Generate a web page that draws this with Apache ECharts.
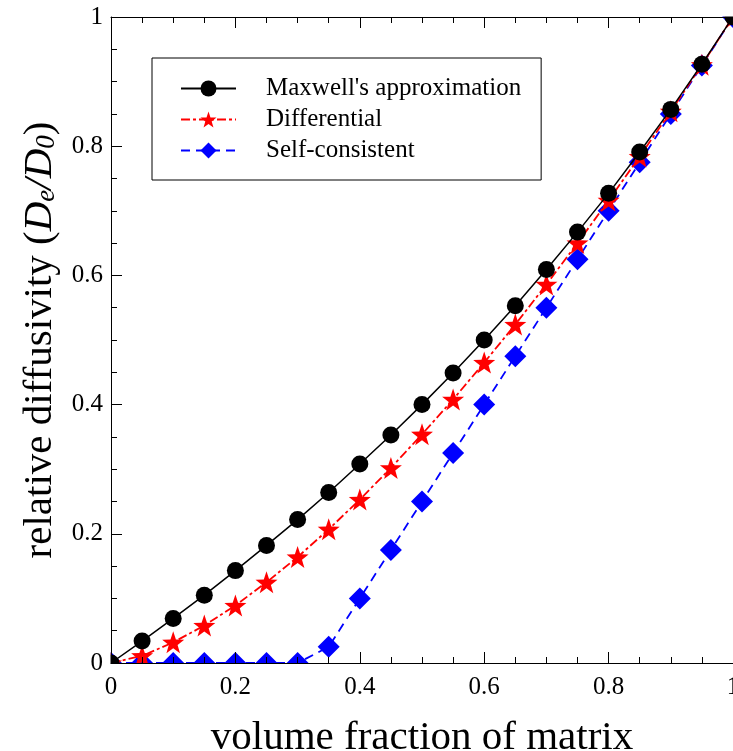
<!DOCTYPE html>
<html>
<head>
<meta charset="utf-8">
<script src="https://cdn.jsdelivr.net/npm/echarts@6/dist/echarts.min.js"></script>
<style>
  html, body { margin: 0; padding: 0; background: #fff; }
  #chart { width: 733px; height: 751px; }
</style>
</head>
<body>
<div id="chart"></div>
<script>
// volume fraction of matrix
const fractions = [0, 0.05, 0.1, 0.15, 0.2, 0.25, 0.3, 0.35, 0.4, 0.45, 0.5,
                   0.55, 0.6, 0.65, 0.7, 0.75, 0.8, 0.85, 0.9, 0.95, 1]
// relative diffusivity
const maxwell = [0, 0.034, 0.069, 0.105, 0.143, 0.182, 0.222, 0.264, 0.308, 0.353, 0.4,
                 0.449, 0.5, 0.553, 0.609, 0.667, 0.727, 0.791, 0.857, 0.927, 1]
const differential = [0, 0.011, 0.032, 0.058, 0.089, 0.125, 0.164, 0.207, 0.253, 0.302, 0.354,
                      0.408, 0.465, 0.524, 0.586, 0.65, 0.716, 0.784, 0.854, 0.926, 1]
const selfConsistent = [0, 0, 0, 0, 0, 0, 0, 0.025, 0.1, 0.175, 0.25,
                        0.325, 0.4, 0.475, 0.55, 0.625, 0.7, 0.775, 0.85, 0.925, 1]
const seriesNames = ["Maxwell's approximation", 'Differential', 'Self-consistent']

const pair = vals => fractions.map((x, i) => [x, vals[i]])

const FONT = 'Liberation Serif'
const STAR = 'path://M0,-10 L2.35,-3.24 L9.51,-3.09 L3.8,1.24 L5.88,8.09 L0,4 L-5.88,8.09 L-3.8,1.24 L-9.51,-3.09 L-2.35,-3.24 Z'

const chart = echarts.init(document.getElementById('chart'))

const axisCommon = {
    type: 'value',
    min: 0,
    max: 1,
    interval: 0.2,
    z: 100,
    axisLine: { show: true, lineStyle: { color: '#000', width: 1 } },
    axisTick: { show: true, inside: true, length: 11, lineStyle: { color: '#000' } },
    minorTick: { show: true, splitNumber: 4, length: 6, lineStyle: { color: '#000' } },
    splitLine: { show: false }
}

const options = {
    animation: false,
    backgroundColor: '#fff',
    grid: { left: 111, top: 17, width: 622, height: 646, containLabel: false, outerBoundsMode: 'none' },
    legend: {
        data: seriesNames,
        orient: 'vertical',
        left: 152,
        top: 58,
        padding: [18, 20, 17, 28],
        itemWidth: 55,
        itemHeight: 20,
        itemGap: 6,
        borderColor: '#000',
        borderWidth: 1,
        textStyle: { fontFamily: FONT, fontSize: 25, lineHeight: 25, color: '#000', padding: [0, 0, 0, 25] }
    },
    xAxis: [
        {
            ...axisCommon,
            position: 'bottom',
            name: 'volume fraction of matrix',
            nameLocation: 'middle',
            nameGap: 55,
            nameTextStyle: { fontFamily: FONT, fontSize: 41, color: '#000' },
            axisLabel: { fontFamily: FONT, fontSize: 25, color: '#000', margin: 12 }
        },
        {
            ...axisCommon,
            position: 'top',
            axisLabel: { show: false }
        }
    ],
    yAxis: {
        ...axisCommon,
        name: '{n|relative diffusivity (}{i|D}{s|e}{i|/D}{s|0}{n|)}',
        nameLocation: 'middle',
        nameRotate: 90,
        nameGap: 50,
        nameTextStyle: {
            fontFamily: FONT,
            fontSize: 41,
            color: '#000',
            rich: {
                n: { fontFamily: FONT, fontSize: 41, color: '#000' },
                i: { fontFamily: FONT, fontSize: 41, fontStyle: 'italic', color: '#000' },
                s: { fontFamily: FONT, fontSize: 27, fontStyle: 'italic', color: '#000',
                     lineHeight: 16, verticalAlign: 'bottom' }
            }
        },
        axisLabel: { fontFamily: FONT, fontSize: 25, color: '#000', margin: 8 }
    },
    // white masks so markers on the frame look cut off like in the original
    graphic: [
        { type: 'rect', z: 50, shape: { x: 0, y: 663.5, width: 733, height: 90 }, style: { fill: '#fff' } },
        { type: 'rect', z: 50, shape: { x: 0, y: 0, width: 110.5, height: 751 }, style: { fill: '#fff' } },
        { type: 'rect', z: 50, shape: { x: 0, y: 0, width: 733, height: 16.5 }, style: { fill: '#fff' } }
    ],
    series: [
        {
            name: seriesNames[0],
            type: 'line',
            z: 5,
            data: pair(maxwell),
            symbol: 'circle',
            symbolSize: 17,
            clip: false,
            itemStyle: { color: '#000' },
            lineStyle: { color: '#000', width: 1.5 }
        },
        {
            name: seriesNames[1],
            type: 'line',
            z: 4,
            data: pair(differential),
            symbol: STAR,
            symbolSize: 22,
            clip: false,
            itemStyle: { color: '#ff0000' },
            lineStyle: { color: '#ff0000', width: 1.8, type: [9, 3, 3, 3] }
        },
        {
            name: seriesNames[2],
            type: 'line',
            z: 3,
            data: pair(selfConsistent),
            symbol: 'diamond',
            symbolSize: 22,
            clip: false,
            itemStyle: { color: '#0000ff' },
            lineStyle: { color: '#0000ff', width: 1.8, type: [9, 6] }
        }
    ]
}

chart.setOption(options)
</script>
</body>
</html>
